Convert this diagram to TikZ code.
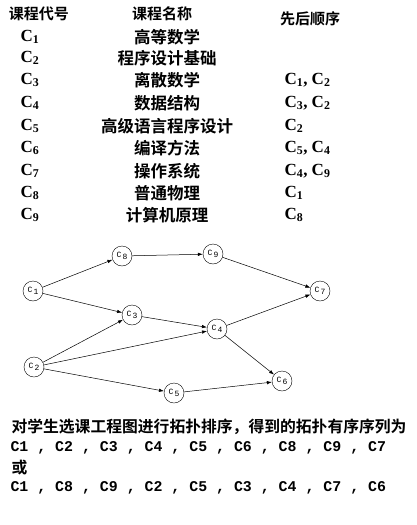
\documentclass[tikz,border=0pt]{standalone}
\usepackage{fontspec}
\setmainfont{Liberation Serif}
\setmonofont{Liberation Mono}
\newfontfamily\cjk{Noto Sans CJK SC}[BoldFont={* Bold}]
\usetikzlibrary{arrows.meta}

\newcommand{\cc}[1]{C\textsubscript{#1}}
\newcommand{\cn}[1]{C\,\raisebox{-1.5pt}{#1}}

\begin{document}
\begin{tikzpicture}[x=1pt, y=-1pt,
        head/.style={font=\cjk\bfseries\fontsize{15}{15}\selectfont},
        title/.style={font=\cjk\bfseries\fontsize{16.5}{16.5}\selectfont},
        code/.style={font=\bfseries\fontsize{17}{17}\selectfont, anchor=west},
        course/.style={draw, circle, minimum size=20pt, inner sep=0pt, font=\ttfamily\fontsize{8}{8}\selectfont},
        link/.style={-{Latex[length=5pt, width=3.5pt]}, line width=0.5pt},
        line/.style={font=\ttfamily\bfseries\fontsize{14.9}{14.9}\selectfont, anchor=west}]
        \useasboundingbox (0, 0) rectangle (417, 525);

        % table
        \node [head] (h1) at (39, 14) {课程代号};
        \node [head] (h2) at (162, 14) {课程名称};
        \node [head] (h3) at (310, 19) {先后顺序};

        \node [code] (k1) at (17, 37) {\cc{1}};
        \node [code] (k2) at (17, 58) {\cc{2}};
        \node [code] (k3) at (17, 80) {\cc{3}};
        \node [code] (k4) at (17, 103) {\cc{4}};
        \node [code] (k5) at (17, 126) {\cc{5}};
        \node [code] (k6) at (17, 148) {\cc{6}};
        \node [code] (k7) at (17, 171) {\cc{7}};
        \node [code] (k8) at (17, 193) {\cc{8}};
        \node [code] (k9) at (17, 215) {\cc{9}};

        \node [title] (n1) at (167, 37) {高等数学};
        \node [title] (n2) at (167, 58) {程序设计基础};
        \node [title] (n3) at (167, 80) {离散数学};
        \node [title] (n4) at (167, 103) {数据结构};
        \node [title] (n5) at (167, 126) {高级语言程序设计};
        \node [title] (n6) at (167, 148) {编译方法};
        \node [title] (n7) at (167, 171) {操作系统};
        \node [title] (n8) at (167, 193) {普通物理};
        \node [title] (n9) at (167, 215) {计算机原理};

        \node [code] (p3) at (281, 80) {\cc{1}, \cc{2}};
        \node [code] (p4) at (281, 103) {\cc{3}, \cc{2}};
        \node [code] (p5) at (281, 126) {\cc{2}};
        \node [code] (p6) at (281, 148) {\cc{5}, \cc{4}};
        \node [code] (p7) at (281, 171) {\cc{4}, \cc{9}};
        \node [code] (p8) at (281, 193) {\cc{1}};
        \node [code] (p9) at (281, 215) {\cc{8}};

        % graph
        \node [course] (C1) at (33, 291) {\cn{1}};
        \node [course] (C2) at (34, 367) {\cn{2}};
        \node [course] (C3) at (132, 315) {\cn{3}};
        \node [course] (C4) at (217, 329) {\cn{4}};
        \node [course] (C5) at (174, 393) {\cn{5}};
        \node [course] (C6) at (282, 381) {\cn{6}};
        \node [course] (C7) at (320, 291) {\cn{7}};
        \node [course] (C8) at (122, 256) {\cn{8}};
        \node [course] (C9) at (213, 254) {\cn{9}};

        \draw (C1) edge[link] (C8);
        \draw (C1) edge[link] (C3);
        \draw (C8) edge[link] (C9);
        \draw (C9) edge[link] (C7);
        \draw (C2) edge[link] (C3);
        \draw (C2) edge[link] (C4);
        \draw (C2) edge[link] (C5);
        \draw (C3) edge[link] (C4);
        \draw (C4) edge[link] (C7);
        \draw (C4) edge[link] (C6);
        \draw (C5) edge[link] (C6);

        % result
        \node [title, anchor=west, font=\cjk\bfseries\fontsize{15.8}{15.8}\selectfont] (t1) at (8, 427) {对学生选课工程图进行拓扑排序，得到的拓扑有序序列为};
        \node [line] (t2) at (7, 448) {C1 , C2 , C3 , C4 , C5 , C6 , C8 , C9 , C7};
        \node [title, anchor=west, font=\cjk\bfseries\fontsize{15.8}{15.8}\selectfont] (t3) at (8, 468) {或};
        \node [line] (t4) at (7, 488) {C1 , C8 , C9 , C2 , C5 , C3 , C4 , C7 , C6};
\end{tikzpicture}
\end{document}
